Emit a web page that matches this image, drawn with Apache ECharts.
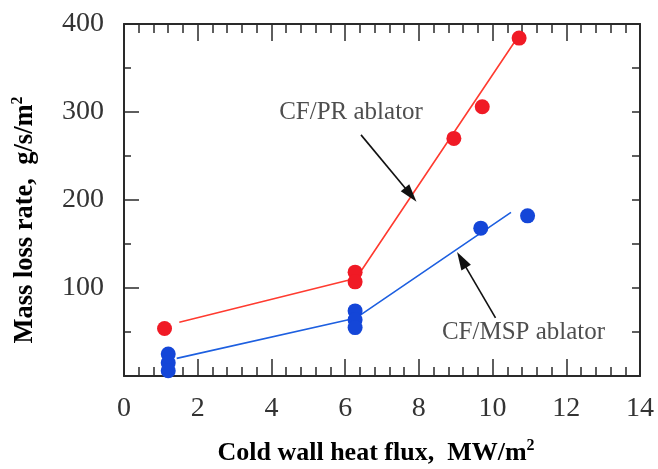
<!DOCTYPE html>
<html>
<head>
<meta charset="utf-8">
<script src="https://cdn.jsdelivr.net/npm/echarts@6/dist/echarts.min.js"></script>
<style>html,body{margin:0;padding:0;background:#fff}#c{width:658px;height:469px}</style>
</head>
<body>
<div id="c"></div>
<script>
// Data (x: cold wall heat flux MW/m2, y: mass loss rate g/s/m2)
const prPoints = [[1.1, 54], [6.27, 118], [6.27, 107], [8.95, 270], [9.72, 306], [10.72, 384]];
const mspPoints = [[1.2, 25], [1.2, 15], [1.2, 6], [6.27, 74], [6.27, 64], [6.27, 55], [9.68, 168], [10.95, 182]];
const prFit = [[1.5, 61], [6.3, 111], [10.7, 386]];
const mspFit = [[1.43, 20], [6.3, 66], [10.5, 186]];
const xTicks = [0, 2, 4, 6, 8, 10, 12, 14];
const yTicks = [0, 100, 200, 300, 400];
const annotations = [
  { text: 'CF/PR ablator', pos: [6.16, 300], arrowFrom: [6.43, 274], arrowTo: [7.78, 206] },
  { text: 'CF/MSP ablator', pos: [10.84, 50], arrowFrom: [10.08, 66], arrowTo: [9.16, 132] }
];

const serif = '"Liberation Serif", "DejaVu Serif", serif';
const axisColor = '#2a2a2a';
const chart = echarts.init(document.getElementById('c'), null, { renderer: 'canvas' });

function gridBox() {
  return { left: 124, right: 18, top: 24, bottom: 93, outerBoundsMode: 'none', containLabel: false };
}
function tickX(pos) {
  return {
    type: 'value', gridIndex: 0, position: pos,
    min: xTicks[0], max: xTicks[xTicks.length - 1], interval: 2,
    axisLine: { show: true, onZero: false, lineStyle: { color: axisColor, width: 2 } },
    axisTick: { show: true, inside: true, length: 17, lineStyle: { color: axisColor, width: 1.5 } },
    minorTick: { show: true, splitNumber: 5, length: 9, lineStyle: { color: axisColor, width: 1.5 } },
    axisLabel: { show: false },
    splitLine: { show: false }
  };
}
function richName(size) {
  return {
    b: { fontFamily: serif, fontWeight: 'bold', fontSize: size, color: '#000' },
    s: { fontFamily: serif, fontWeight: 'bold', fontSize: 16, color: '#000', padding: [0, 0, 14, 0] }
  };
}

const option = {
  backgroundColor: '#fff',
  animation: false,
  grid: [gridBox(), gridBox()],
  xAxis: [
    tickX('bottom'),
    tickX('top'),
    {
      type: 'value', gridIndex: 1, position: 'bottom',
      min: xTicks[0], max: xTicks[xTicks.length - 1], interval: 2,
      axisLine: { show: false, onZero: false },
      axisTick: { show: false },
      splitLine: { show: false },
      axisLabel: { show: true, margin: 19, fontFamily: serif, fontSize: 28, color: '#333' },
      name: '{b|Cold wall heat flux,  MW/m}{s|2}',
      nameLocation: 'middle', nameGap: 62,
      nameTextStyle: { padding: [0, 12, 0, 0], rich: richName(26) }
    }
  ],
  yAxis: [
    {
      type: 'value', gridIndex: 0, position: 'left',
      min: yTicks[0], max: yTicks[yTicks.length - 1], interval: 100,
      axisLine: { show: true, onZero: false, lineStyle: { color: axisColor, width: 2 } },
      axisTick: { show: true, inside: true, length: 15, lineStyle: { color: axisColor, width: 1.5 } },
      minorTick: { show: true, splitNumber: 2, length: 7, lineStyle: { color: axisColor, width: 1.5 } },
      axisLabel: { show: false },
      splitLine: { show: false }
    },
    {
      type: 'value', gridIndex: 0, position: 'right',
      min: yTicks[0], max: yTicks[yTicks.length - 1], interval: 50,
      axisLine: { show: true, onZero: false, lineStyle: { color: axisColor, width: 2 } },
      axisTick: { show: true, inside: true, length: 8, lineStyle: { color: axisColor, width: 1.5 } },
      axisLabel: { show: false },
      splitLine: { show: false }
    },
    {
      type: 'value', gridIndex: 1, position: 'left',
      min: yTicks[0], max: yTicks[yTicks.length - 1], interval: 100,
      axisLine: { show: false, onZero: false },
      axisTick: { show: false },
      splitLine: { show: false },
      axisLabel: {
        show: true, margin: 20, fontFamily: serif, fontSize: 28, color: '#333',
        formatter: v => (v === 0 ? '' : String(v))
      },
      name: '{b|Mass loss rate,  g/s/m}{s|2}',
      nameLocation: 'middle', nameGap: 84, nameRotate: 90,
      nameTextStyle: { padding: [0, 40, 0, 0], rich: richName(26.5) }
    }
  ],
  series: [
    {
      type: 'line', data: prFit, xAxisIndex: 0, yAxisIndex: 0, symbol: 'none', z: 2,
      lineStyle: { color: '#ff3b30', width: 1.6 },
      markLine: {
        silent: true, symbol: ['none', 'triangle'], symbolSize: [11, 18],
        lineStyle: { color: '#111', width: 1.6, type: 'solid' },
        label: { show: false },
        data: annotations.map(a => [{ coord: a.arrowFrom }, { coord: a.arrowTo }])
      }
    },
    {
      type: 'line', data: mspFit, xAxisIndex: 0, yAxisIndex: 0, symbol: 'none', z: 2,
      lineStyle: { color: '#1d5fe0', width: 1.6 }
    },
    {
      type: 'scatter', data: prPoints, xAxisIndex: 0, yAxisIndex: 0, symbolSize: 15, z: 3,
      itemStyle: { color: '#f01a25', opacity: 1 }
    },
    {
      type: 'scatter', data: mspPoints, xAxisIndex: 0, yAxisIndex: 0, symbolSize: 15, z: 3,
      itemStyle: { color: '#1446d8', opacity: 1 }
    },
    {
      type: 'scatter', xAxisIndex: 0, yAxisIndex: 0, symbolSize: 0, z: 4, silent: true,
      data: annotations.map(a => ({ value: a.pos, name: a.text })),
      label: {
        show: true, position: 'inside', formatter: p => p.name,
        fontFamily: serif, fontSize: 25, color: '#222'
      }
    }
  ]
};
chart.setOption(option);
</script>
</body>
</html>
